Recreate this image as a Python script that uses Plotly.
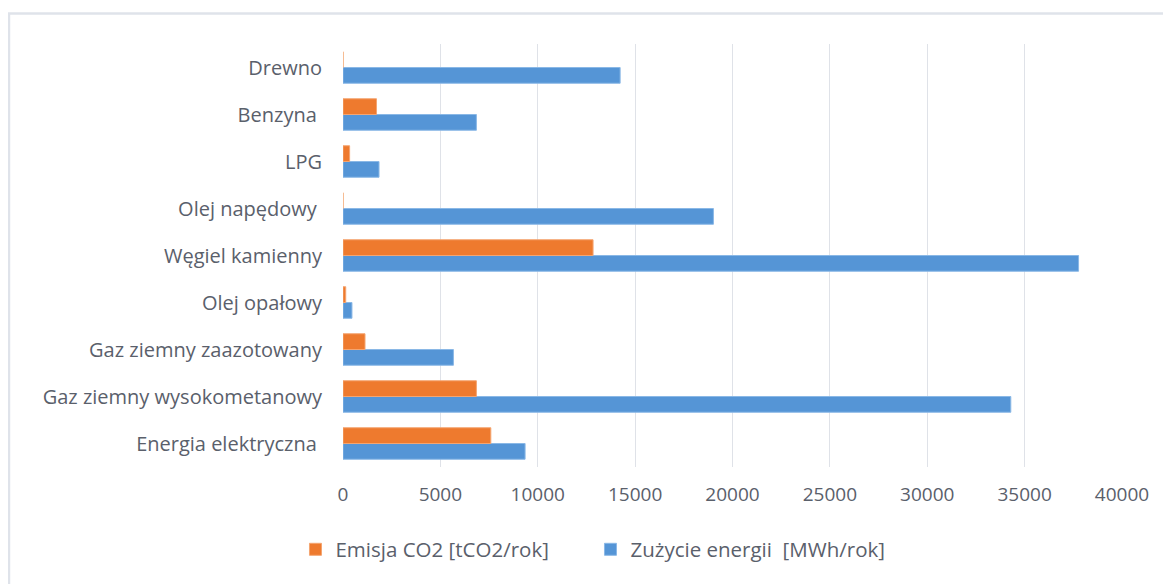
import plotly.graph_objects as go

categories = [
    "Energia elektryczna\u00a0",
    "Gaz ziemny wysokometanowy",
    "Gaz ziemny zaazotowany",
    "Olej opałowy",
    "Węgiel kamienny",
    "Olej napędowy\u00a0",
    "LPG",
    "Benzyna\u00a0",
    "Drewno",
]
emisja_co2 = [7590, 6850, 1130, 140, 12840, 0, 340, 1720, 0]
zuzycie_energii = [9350, 34290, 5670, 460, 37770, 19020, 1850, 6850, 14230]
x_ticks = [0, 5000, 10000, 15000, 20000, 25000, 30000, 35000, 40000]

fig = go.Figure()
fig.add_trace(go.Bar(
    y=categories, x=zuzycie_energii, orientation="h",
    name="Zużycie energii  [MWh/rok]",
    marker=dict(color="#5595d6", line=dict(color="#8ab8e6", width=1)),
    legendrank=2,
))
fig.add_trace(go.Bar(
    y=categories, x=emisja_co2, orientation="h",
    name="Emisja CO2 [tCO2/rok]",
    marker=dict(color="#ee7a2e", line=dict(color="#f4a571", width=1)),
    legendrank=1,
))

font_family = "'Open Sans', Lato, sans-serif"
text_color = "#5a606b"
fig.update_layout(
    width=1171, height=584,
    barmode="group", bargap=0.33, bargroupgap=0,
    plot_bgcolor="white", paper_bgcolor="white",
    margin=dict(l=335, r=57, t=36, b=125),
    font=dict(family=font_family, color=text_color, size=20),
    xaxis=dict(
        range=[0, 40000], tickvals=x_ticks, ticktext=[str(v) for v in x_ticks],
        showgrid=True, gridcolor="#dfe2e8", gridwidth=1.3,
        zeroline=False, showline=False, ticks="",
        tickfont=dict(size=19, color=text_color),
        ticklabelstandoff=14,
    ),
    yaxis=dict(
        categoryorder="array", categoryarray=categories,
        showgrid=False, zeroline=False, showline=False, ticks="",
        ticklabelstandoff=20,
        tickfont=dict(size=20, color=text_color),
    ),
    legend=dict(
        orientation="h", x=-0.061, xanchor="left", y=-0.195, yanchor="middle",
        font=dict(size=20.5, color=text_color),
        itemwidth=30, tracegroupgap=0, traceorder="normal",
        entrywidth=250, entrywidthmode="pixels",
    ),
    shapes=[dict(
        type="rect", xref="paper", yref="paper",
        x0=-0.4288, x1=1.2, y0=-0.4, y1=1.072,
        line=dict(color="#dfe3ea", width=2.5), fillcolor="rgba(0,0,0,0)",
        layer="below",
    )],
)

fig.write_html("out.html")
